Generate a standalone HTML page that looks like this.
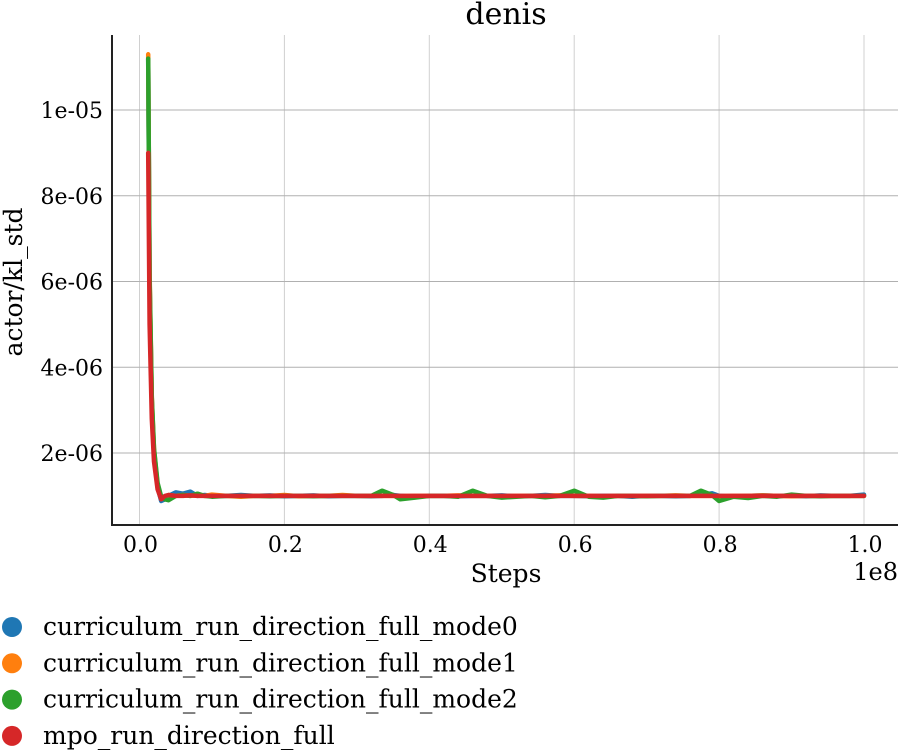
<!DOCTYPE html>
<html><head><meta charset="utf-8"><style>
html,body{margin:0;padding:0;background:#fff;}
svg text{font-family:"DejaVu Serif","Liberation Serif",serif;fill:#000;}
</style></head><body>
<svg id="chart" width="900" height="750" xmlns="http://www.w3.org/2000/svg">
<text x="506" y="24" font-size="30" text-anchor="middle">denis</text>
<g id="grid"></g>
<g id="series"></g>
<g id="axes"></g>
<text x="506" y="582" font-size="25" text-anchor="middle">Steps</text>
<text x="898" y="580" font-size="24" text-anchor="end">1e8</text>
<text transform="translate(22,282) rotate(-90)" font-size="25" text-anchor="middle">actor/kl_std</text>
<g id="legend"></g>
</svg>
<script>
const xTicks=[0,0.2,0.4,0.6,0.8,1.0];
const xTickLabels=["0.0","0.2","0.4","0.6","0.8","1.0"];
const yTicks=[2,4,6,8,10];
const yTickLabels=["2e-06","4e-06","6e-06","8e-06","1e-05"];
const seriesNames=["curriculum_run_direction_full_mode0","curriculum_run_direction_full_mode1","curriculum_run_direction_full_mode2","mpo_run_direction_full"];
const seriesColors=["#1f77b4","#ff7f0e","#2ca02c","#d62728"];
const steps=[0.012,0.014,0.017,0.02,0.025,0.03,0.035,0.04,0.05,0.06,0.07,0.08,0.09,0.1,0.12,0.14,0.16,0.18,0.2,0.22,0.24,0.26,0.28,0.3,0.32,0.335,0.35,0.36,0.38,0.4,0.42,0.44,0.46,0.48,0.5,0.52,0.54,0.56,0.58,0.6,0.62,0.64,0.66,0.68,0.7,0.72,0.74,0.76,0.775,0.79,0.8,0.82,0.84,0.86,0.88,0.9,0.92,0.94,0.96,0.98,1.0];
const mode0=[11.2,6.0,3.2,2.0,1.2,0.88,0.92,1.0,1.08,1.05,1.1,1.0,1.02,1.0,1.0,1.02,1.0,1.01,0.99,1.0,1.01,0.99,1.0,1.0,0.99,1.0,1.02,1.0,0.98,1.0,1.0,0.99,1.0,1.0,1.01,0.99,1.0,1.02,1.0,1.0,0.99,1.0,1.0,0.98,1.0,1.0,0.99,1.0,1.03,1.06,1.0,0.98,1.0,1.01,1.0,1.0,0.99,1.01,1.0,1.0,1.03];
const mode1=[11.3,6.2,3.3,2.1,1.25,0.95,0.98,1.02,1.0,1.02,1.0,1.01,1.0,1.03,1.0,0.98,1.0,1.0,1.02,0.99,1.0,1.0,1.02,1.0,1.0,1.0,1.0,0.99,1.0,1.0,1.0,1.01,1.0,1.0,0.99,1.0,1.0,1.0,1.01,1.0,1.0,0.99,1.0,1.0,1.0,1.0,1.01,1.0,1.0,1.0,0.99,1.0,1.0,1.01,1.0,0.99,1.0,1.0,1.0,1.0,1.0];
const mode2=[11.2,6.1,3.3,2.1,1.3,0.98,0.92,0.9,1.0,1.02,1.0,1.05,1.0,0.98,1.0,1.0,1.0,0.99,1.0,1.0,0.99,1.0,1.0,1.0,1.0,1.12,1.02,0.92,0.96,1.0,1.0,0.98,1.12,1.0,0.96,0.98,1.0,0.97,1.0,1.12,0.98,0.96,1.0,1.0,0.99,1.0,1.0,1.0,1.12,1.02,0.88,0.98,0.95,1.0,0.98,1.03,1.0,0.99,1.0,1.0,1.0];
const mpo=[9.0,5.0,2.8,1.8,1.15,0.92,1.0,1.02,1.0,1.0,1.01,1.0,1.0,1.0,1.0,1.0,1.0,1.0,1.0,1.0,1.0,1.0,1.0,1.0,1.0,1.0,1.0,1.0,1.0,1.0,1.0,1.0,1.0,1.0,1.0,1.0,1.0,1.0,1.0,1.0,1.0,1.0,1.0,1.0,1.0,1.0,1.0,1.0,1.0,1.0,1.0,1.0,1.0,1.0,1.0,1.0,1.0,1.0,1.0,1.0,1.0];
const seriesData=[mode0,mode1,mode2,mpo];

const NS="http://www.w3.org/2000/svg";
const L=112,R=898,T=35,B=525;
function xS(v){return 139.5+v*(864-139.5);}
function yS(v){return 538.75-v*42.875;}
function mk(t,a,p){const e=document.createElementNS(NS,t);for(const k in a)e.setAttribute(k,a[k]);p.appendChild(e);return e;}
const grid=document.getElementById('grid'),axes=document.getElementById('axes'),ser=document.getElementById('series'),leg=document.getElementById('legend');
xTicks.forEach((t,i)=>{
 const g=mk('line',{x1:xS(t),x2:xS(t),y1:T,y2:B,stroke:'#d0d0d0','stroke-width':1},grid);
 
 const tx=mk('text',{x:xS(t)+1,y:552,'font-size':22,'text-anchor':'middle'},axes);tx.textContent=xTickLabels[i];
 
});
yTicks.forEach((t,i)=>{
 const g=mk('line',{x1:L,x2:R,y1:yS(t),y2:yS(t),stroke:'#b0b0b0','stroke-width':1},grid);
 
 const tx=mk('text',{x:L-9,y:yS(t)+8,'font-size':22,'text-anchor':'end'},axes);tx.textContent=yTickLabels[i];
 
});
const ax1=mk('line',{x1:L,x2:L,y1:T,y2:B+1,stroke:'#222','stroke-width':2},axes);

const ax2=mk('line',{x1:L-1,x2:R,y1:B,y2:B,stroke:'#222','stroke-width':2},axes);

seriesData.forEach((d,si)=>{
 const pts=d.map((v,i)=>xS(steps[i]).toFixed(1)+','+yS(v).toFixed(1)).join(' ');
 const p=mk('polyline',{points:pts,fill:'none',stroke:seriesColors[si],'stroke-width':4.5,'stroke-linejoin':'round','stroke-linecap':'round'},ser);
 
 const cy=627+si*36.3;
 const c=mk('circle',{cx:12,cy:cy,r:10,fill:seriesColors[si]},leg);
 
 const t=mk('text',{x:43,y:cy+8,'font-size':25},leg);t.textContent=seriesNames[si];
 
});
</script>
</body></html>
